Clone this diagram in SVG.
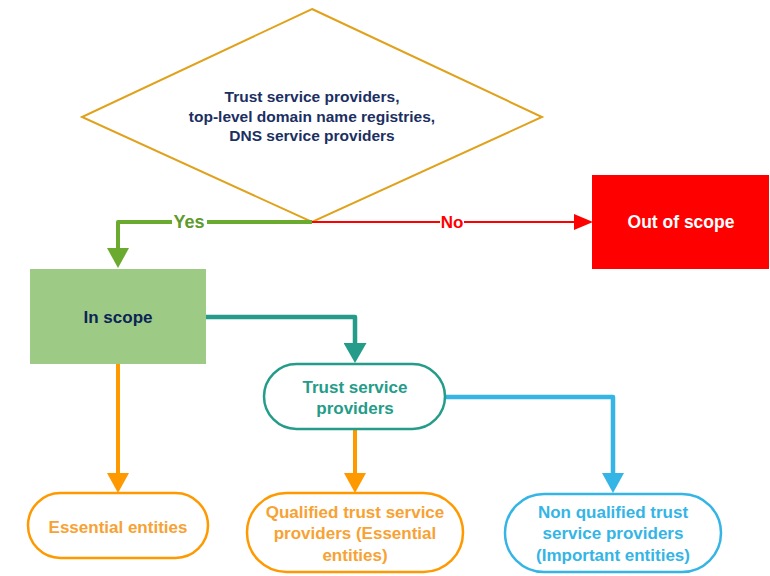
<svg xmlns="http://www.w3.org/2000/svg" width="770" height="576" viewBox="0 0 770 576">
<defs>
<style>
text{font-family:"Liberation Sans",Arial,sans-serif;font-weight:bold;text-anchor:middle}
.c{fill:none;stroke-linejoin:round}
.t{font-size:17px}
</style>
<marker id="aG" viewBox="0 0 20 22" refX="10" refY="11" markerWidth="20" markerHeight="22" markerUnits="userSpaceOnUse" orient="auto"><path d="M0,0L20,11L0,22z" fill="#6AAA2E"/></marker>
<marker id="aR" viewBox="0 0 19 16" refX="9" refY="8" markerWidth="19" markerHeight="16" markerUnits="userSpaceOnUse" orient="auto"><path d="M0,0L19,8L0,16z" fill="#FF0000"/></marker>
<marker id="aT" viewBox="0 0 20 23" refX="10" refY="11.5" markerWidth="20" markerHeight="23" markerUnits="userSpaceOnUse" orient="auto"><path d="M0,0L20,11.5L0,23z" fill="#259C89"/></marker>
<marker id="aO" viewBox="0 0 20 22" refX="10" refY="11" markerWidth="20" markerHeight="22" markerUnits="userSpaceOnUse" orient="auto"><path d="M0,0L20,11L0,22z" fill="#FF9900"/></marker>
<marker id="aB" viewBox="0 0 20 22" refX="10" refY="11" markerWidth="20" markerHeight="22" markerUnits="userSpaceOnUse" orient="auto"><path d="M0,0L20,11L0,22z" fill="#35B5E6"/></marker>
</defs>
<rect width="770" height="576" fill="#FFFFFF"/>
<g id="decision">
<polygon points="312,9 542,117 312,222 82,117" fill="#FFFFFF" stroke="#E0A11B" stroke-width="2"/>
<text fill="#1B2F62" font-size="15.5px"><tspan x="312" y="102">Trust service providers,</tspan><tspan x="312" y="122">top-level domain name registries,</tspan><tspan x="312" y="141">DNS service providers</tspan></text>
</g>
<g id="connectors">
<path class="c" d="M312,222H118V258" stroke="#6AAA2E" stroke-width="4" marker-end="url(#aG)"/>
<path class="c" d="M312,222H583" stroke="#FF0000" stroke-width="2" marker-end="url(#aR)"/>
<path class="c" d="M206,317H355V353" stroke="#259C89" stroke-width="4.5" marker-end="url(#aT)"/>
<path class="c" d="M118,364V483" stroke="#FF9900" stroke-width="4" marker-end="url(#aO)"/>
<path class="c" d="M355,429V483" stroke="#FF9900" stroke-width="4" marker-end="url(#aO)"/>
<path class="c" d="M445,397H613V483" stroke="#35B5E6" stroke-width="4.5" marker-end="url(#aB)"/>
<rect x="172" y="212" width="35" height="20" fill="#FFFFFF"/>
<text x="189" y="228" fill="#5E9A2C" font-size="18px">Yes</text>
<rect x="440" y="212" width="24" height="20" fill="#FFFFFF"/>
<text x="452" y="228" class="t" fill="#FF0000">No</text>
</g>
<g id="out-of-scope">
<rect x="592" y="175" width="177" height="94" fill="#FF0000"/>
<text x="681" y="228" fill="#FFFFFF" font-size="17.5px">Out of scope</text>
</g>
<g id="in-scope">
<rect x="30" y="269" width="176" height="95" fill="#9DCB86"/>
<text x="118" y="323" class="t" fill="#0C2355">In scope</text>
</g>
<g id="trust-service-providers">
<rect x="264" y="364" width="181" height="65" rx="32.5" fill="#FFFFFF" stroke="#259C89" stroke-width="2.5"/>
<text class="t" fill="#259C89"><tspan x="355" y="393">Trust service</tspan><tspan x="355" y="414">providers</tspan></text>
</g>
<g id="essential-entities">
<rect x="28" y="493" width="180" height="65" rx="32.5" fill="#FFFFFF" stroke="#FF9900" stroke-width="2.5"/>
<text x="118" y="533" class="t" fill="#F7A234">Essential entities</text>
</g>
<g id="qualified">
<rect x="247" y="493" width="216" height="79" rx="39.5" fill="#FFFFFF" stroke="#FF9900" stroke-width="2.5"/>
<text class="t" fill="#F7A234"><tspan x="355" y="518">Qualified trust service</tspan><tspan x="355" y="539">providers (Essential</tspan><tspan x="355" y="561">entities)</tspan></text>
</g>
<g id="non-qualified">
<rect x="505" y="494" width="216" height="78" rx="39" fill="#FFFFFF" stroke="#35B5E6" stroke-width="2.5"/>
<text class="t" fill="#35B5E6"><tspan x="613" y="518">Non qualified trust</tspan><tspan x="613" y="539">service providers</tspan><tspan x="613" y="561">(Important entities)</tspan></text>
</g>
</svg>
